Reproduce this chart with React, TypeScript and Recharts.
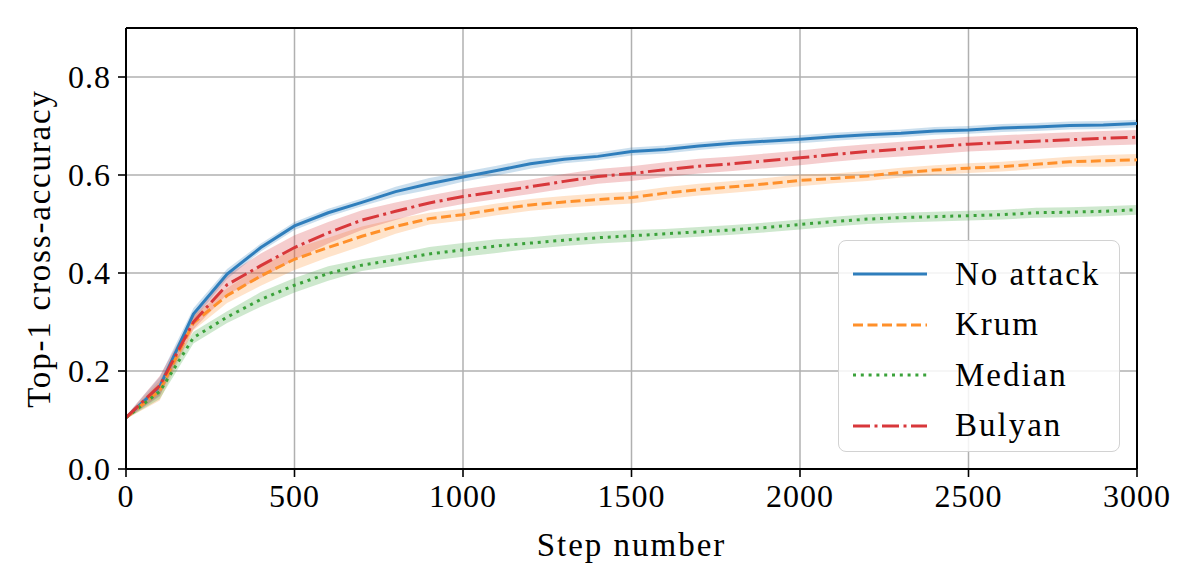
import React from 'react';
import { ComposedChart, Line, Area, XAxis, YAxis, CartesianGrid, ReferenceLine } from 'recharts';

const steps = [0, 100, 200, 300, 400, 500, 600, 700, 800, 900, 1000, 1100, 1200, 1300, 1400, 1500,
  1600, 1700, 1800, 1900, 2000, 2100, 2200, 2300, 2400, 2500, 2600, 2700, 2800, 2900, 3000];

const noAttack = [0.105, 0.168, 0.316, 0.398, 0.452, 0.496, 0.523, 0.544, 0.566, 0.582, 0.596, 0.609, 0.623, 0.632, 0.638, 0.648,
  0.652, 0.659, 0.665, 0.669, 0.673, 0.678, 0.682, 0.685, 0.690, 0.692, 0.696, 0.698, 0.701, 0.702, 0.705];
const krum = [0.105, 0.160, 0.298, 0.354, 0.394, 0.428, 0.452, 0.475, 0.495, 0.511, 0.519, 0.530, 0.539, 0.545, 0.550, 0.554,
  0.563, 0.570, 0.576, 0.582, 0.589, 0.593, 0.598, 0.605, 0.610, 0.614, 0.617, 0.622, 0.627, 0.629, 0.631];
const median = [0.105, 0.158, 0.268, 0.310, 0.346, 0.375, 0.399, 0.416, 0.427, 0.439, 0.447, 0.455, 0.461, 0.467, 0.472, 0.476,
  0.480, 0.484, 0.488, 0.493, 0.499, 0.505, 0.510, 0.513, 0.515, 0.517, 0.519, 0.523, 0.524, 0.526, 0.529];
const bulyan = [0.105, 0.170, 0.300, 0.376, 0.415, 0.452, 0.482, 0.508, 0.526, 0.543, 0.556, 0.566, 0.576, 0.587, 0.597, 0.603,
  0.611, 0.618, 0.623, 0.629, 0.635, 0.642, 0.648, 0.653, 0.658, 0.663, 0.666, 0.669, 0.672, 0.675, 0.677];

// half-width of the shaded spread around each curve
const noAttackSpread = [0.003, 0.02, 0.012, 0.01, 0.008, 0.008, 0.008, 0.008, 0.01, 0.012, 0.01, 0.01, 0.01, 0.008, 0.008, 0.008,
  0.008, 0.008, 0.008, 0.008, 0.008, 0.008, 0.008, 0.008, 0.008, 0.008, 0.008, 0.008, 0.008, 0.008, 0.008];
const krumSpread = [0.003, 0.02, 0.015, 0.015, 0.02, 0.022, 0.02, 0.02, 0.015, 0.012, 0.012, 0.012, 0.012, 0.012, 0.012, 0.012,
  0.012, 0.012, 0.012, 0.012, 0.012, 0.01, 0.01, 0.01, 0.01, 0.01, 0.01, 0.01, 0.01, 0.012, 0.012];
const medianSpread = [0.003, 0.015, 0.012, 0.012, 0.015, 0.015, 0.015, 0.012, 0.012, 0.014, 0.014, 0.014, 0.012, 0.012, 0.012, 0.012,
  0.01, 0.01, 0.01, 0.01, 0.01, 0.01, 0.01, 0.01, 0.01, 0.01, 0.01, 0.01, 0.01, 0.01, 0.01];
const bulyanSpread = [0.003, 0.02, 0.015, 0.02, 0.025, 0.025, 0.022, 0.02, 0.018, 0.015, 0.015, 0.015, 0.015, 0.015, 0.015, 0.015,
  0.015, 0.015, 0.015, 0.015, 0.015, 0.015, 0.015, 0.015, 0.015, 0.015, 0.015, 0.015, 0.015, 0.015, 0.015];

const xTicks = [0, 500, 1000, 1500, 2000, 2500, 3000];
const yTicks = [0, 0.2, 0.4, 0.6, 0.8];

const FONT = '"Liberation Serif", "Times New Roman", serif';
const LW = 3;

const series = [
  { key: 'noAttack', name: 'No attack', values: noAttack, spread: noAttackSpread, color: '#2f7ebc', dash: undefined },
  { key: 'krum', name: 'Krum', values: krum, spread: krumSpread, color: '#ff902a', dash: '10 4.5' },
  { key: 'median', name: 'Median', values: median, spread: medianSpread, color: '#3aa23a', dash: '3 4.8' },
  { key: 'bulyan', name: 'Bulyan', values: bulyan, spread: bulyanSpread, color: '#d8373a', dash: '17 4.5 3 4.5' },
];

const data = steps.map((step, i) => {
  const row: any = { step };
  series.forEach(s => {
    row[s.key] = s.values[i];
    row[s.key + 'Band'] = [s.values[i] - s.spread[i], s.values[i] + s.spread[i]];
  });
  return row;
});

const tickStyle = { fontFamily: FONT, fontSize: 32, fill: '#000', letterSpacing: 1 };

const LegendBox = () => (
  <div style={{
    position: 'absolute', left: 830, top: 232,
    width: 282, height: 212, boxSizing: 'border-box', border: '1.6px solid #d2d2d2', borderRadius: 8,
    background: 'rgba(255,255,255,0.85)', paddingTop: 8,
  }}>
    {series.map(s => (
      <div key={s.key} style={{ display: 'flex', alignItems: 'center', height: 50.5 }}>
        <svg width={110} height={20} style={{ flex: 'none' }}>
          <line x1={14} x2={88} y1={10} y2={10} stroke={s.color} strokeWidth={LW} strokeDasharray={s.dash} />
        </svg>
        <span style={{ fontFamily: FONT, fontSize: 33, letterSpacing: 2, color: '#000', marginLeft: 6 }}>{s.name}</span>
      </div>
    ))}
  </div>
);

export default function App() {
  return (
    <div style={{ width: 1180, height: 570, position: 'relative' }}>
      <ComposedChart width={1180} height={570} data={data} margin={{ top: 20, right: 51, left: 0, bottom: 0 }}>
        <CartesianGrid stroke="#b0b0b0" strokeWidth={1.5} />
        <XAxis
          dataKey="step" type="number" domain={[0, 3000]} ticks={xTicks} height={109}
          tickSize={8} tickMargin={7} tick={tickStyle}
          axisLine={{ stroke: '#000', strokeWidth: 2 }} tickLine={{ stroke: '#000', strokeWidth: 1.6 }}
          label={{ value: 'Step number', position: 'insideBottom', offset: 22, style: { fontFamily: FONT, fontSize: 33, letterSpacing: 2, fill: '#000' } }}
        />
        <YAxis
          type="number" domain={[0, 0.9]} ticks={yTicks} width={118} allowDataOverflow
          tickSize={8} tickMargin={7} tick={tickStyle} tickFormatter={(v: number) => v.toFixed(1)}
          axisLine={{ stroke: '#000', strokeWidth: 2 }} tickLine={{ stroke: '#000', strokeWidth: 1.6 }}
          label={{ value: 'Top-1 cross-accuracy', angle: -90, position: 'center', dx: -29, style: { fontFamily: FONT, fontSize: 33, letterSpacing: 1.8, fill: '#000' } }}
        />
        <ReferenceLine y={0.9} stroke="#000" strokeWidth={2} />
        <ReferenceLine x={3000} stroke="#000" strokeWidth={2} />
        {series.map(s => (
          <Area key={s.key + 'Band'} dataKey={s.key + 'Band'} type="linear" stroke="none"
            fill={s.color} fillOpacity={0.25} isAnimationActive={false} legendType="none" />
        ))}
        {series.map(s => (
          <Line key={s.key} dataKey={s.key} name={s.name} type="linear" stroke={s.color} strokeWidth={LW}
            strokeDasharray={s.dash} dot={false} isAnimationActive={false} />
        ))}
      </ComposedChart>
      <LegendBox />
    </div>
  );
}
